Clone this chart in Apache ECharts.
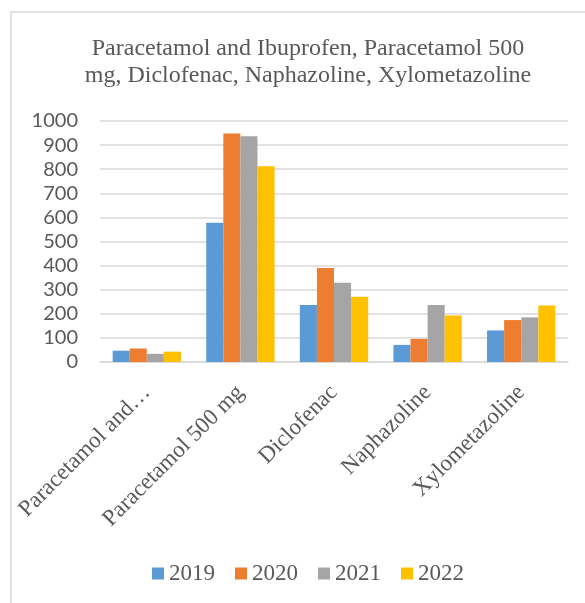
<!DOCTYPE html>
<html>
<head>
<meta charset="utf-8">
<script src="https://cdn.jsdelivr.net/npm/echarts@6/dist/echarts.min.js"></script>
<style>html,body{margin:0;padding:0;background:#fff}#c{width:585px;height:603px}</style>
</head>
<body>
<div id="c"></div>
<script>
const titleText = 'Paracetamol and Ibuprofen, Paracetamol 500\nmg, Diclofenac, Naphazoline, Xylometazoline';
const categories = ['Paracetamol and Ibuprofen', 'Paracetamol 500 mg', 'Diclofenac', 'Naphazoline', 'Xylometazoline'];
const seriesNames = ['2019', '2020', '2021', '2022'];
const values2019 = [47, 578, 236, 71, 131];
const values2020 = [56, 948, 390, 96, 174];
const values2021 = [34, 937, 329, 236, 185];
const values2022 = [43, 812, 271, 193, 234];
const colors = ['#5b9bd5', '#ed7d31', '#a5a5a5', '#ffc000'];

const allValues = [values2019, values2020, values2021, values2022];
const chart = echarts.init(document.getElementById('c'));
chart.setOption({
  animation: false,
  color: colors,
  graphic: [{
    type: 'rect', shape: {x: 11, y: 12, width: 620, height: 620},
    style: {fill: 'none', stroke: '#d9d9d9', lineWidth: 1.5}
  }],
  title: {
    text: titleText, left: 303, textAlign: 'center', top: 30,
    textStyle: {fontFamily: 'Liberation Serif', fontSize: 24, fontWeight: 'normal', color: '#595959', lineHeight: 27}
  },
  legend: {
    top: 557, left: 147, itemWidth: 12, itemHeight: 12, itemGap: 20,
    icon: 'rect',
    textStyle: {fontFamily: 'Liberation Serif', fontSize: 23, color: '#595959'},
    data: seriesNames
  },
  grid: {left: 100, right: 17, top: 121, bottom: 241, containLabel: false},
  xAxis: {
    type: 'category', data: categories,
    axisLine: {lineStyle: {color: '#d9d9d9', width: 1.5}},
    axisTick: {show: false},
    axisLabel: {
      rotate: 45, interval: 0, margin: 27,
      fontFamily: 'Liberation Serif', fontSize: 23, color: '#595959',
      formatter: v => v.length > 20 ? v.split(' ').slice(0, 2).join(' ') + '…' : v
    }
  },
  yAxis: {
    type: 'value', min: 0, max: 1000, interval: 100,
    axisLine: {show: false}, axisTick: {show: false},
    splitLine: {lineStyle: {color: '#d9d9d9', width: 1.5}},
    axisLabel: {fontFamily: 'Lato', fontSize: 20, color: '#595959', margin: 22, formatter: v => String(v)}
  },
  series: seriesNames.map((n, i) => ({
    name: n, type: 'bar', data: allValues[i],
    barGap: '0%', barCategoryGap: '27%'
  }))
});
</script>
</body>
</html>
